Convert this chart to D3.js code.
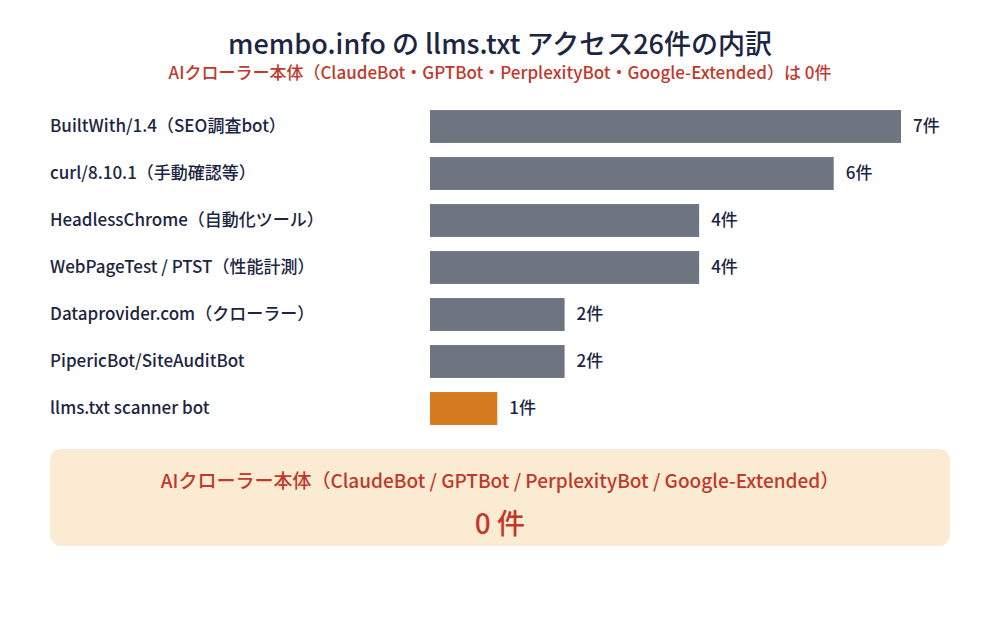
<!DOCTYPE html>
<html><head><meta charset="utf-8">
<script src="https://cdn.jsdelivr.net/npm/d3@7"></script>
<style>
html,body{margin:0;padding:0;background:#fff;}
svg{display:block;font-family:"Noto Sans CJK JP","Noto Sans",sans-serif;}
</style></head>
<body>
<svg id="chart" width="1000" height="640"></svg>
<script>
const categories = [
  "BuiltWith/1.4（SEO調査bot）",
  "curl/8.10.1（手動確認等）",
  "HeadlessChrome（自動化ツール）",
  "WebPageTest / PTST（性能計測）",
  "Dataprovider.com（クローラー）",
  "PipericBot/SiteAuditBot",
  "llms.txt scanner bot"
];
const counts = [7, 6, 4, 4, 2, 2, 1];
const highlight = [false, false, false, false, false, false, true];
const titleText = "membo.info の llms.txt アクセス26件の内訳";
const subtitleText = "AIクローラー本体（ClaudeBot・GPTBot・PerplexityBot・Google-Extended）は 0件";
const boxLabel = "AIクローラー本体（ClaudeBot / GPTBot / PerplexityBot / Google-Extended）";
const boxValue = "0 件";

const svg = d3.select("#chart");
const dark = "#1c2541";
const red = "#c0392b";

svg.append("text").attr("x", 500).attr("y", 54).attr("text-anchor", "middle")
  .attr("font-size", 27).attr("font-weight", 500).attr("fill", dark).text(titleText);
svg.append("text").attr("x", 500).attr("y", 79).attr("text-anchor", "middle")
  .attr("font-size", 17).attr("font-weight", 500).attr("fill", red).text(subtitleText);

const x = d3.scaleLinear().domain([0, 7]).range([430, 901]);
const y = d3.scaleBand().domain(categories).range([103, 432]).paddingInner(0.3).paddingOuter(0.15);

const rows = categories.map((c, i) => ({c, v: counts[i], h: highlight[i]}));

svg.append("g").selectAll("rect").data(rows).join("rect")
  .attr("x", x(0)).attr("y", d => y(d.c))
  .attr("width", d => x(d.v) - x(0)).attr("height", y.bandwidth())
  .attr("fill", d => d.h ? "#d67a22" : "#6e7480");

svg.append("g").selectAll("text").data(rows).join("text")
  .attr("x", 50).attr("y", d => y(d.c) + y.bandwidth() / 2)
  .attr("dy", "0.35em").attr("font-size", 17).attr("font-weight", 500)
  .attr("fill", dark).text(d => d.c);

svg.append("g").selectAll("text").data(rows).join("text")
  .attr("x", d => x(d.v) + 12).attr("y", d => y(d.c) + y.bandwidth() / 2)
  .attr("dy", "0.35em").attr("font-size", 17).attr("font-weight", 500)
  .attr("fill", dark).text(d => d.v + "件");

svg.append("rect").attr("x", 50).attr("y", 449).attr("width", 900).attr("height", 97)
  .attr("rx", 11).attr("fill", "#fcebd3");
svg.append("text").attr("x", 500).attr("y", 481).attr("dy", "0.35em").attr("text-anchor", "middle")
  .attr("font-size", 19).attr("font-weight", 500).attr("fill", red).text(boxLabel);
svg.append("text").attr("x", 500).attr("y", 524).attr("dy", "0.35em").attr("text-anchor", "middle")
  .attr("font-size", 28).attr("font-weight", 500).attr("fill", red).text(boxValue);
</script>
</body></html>
